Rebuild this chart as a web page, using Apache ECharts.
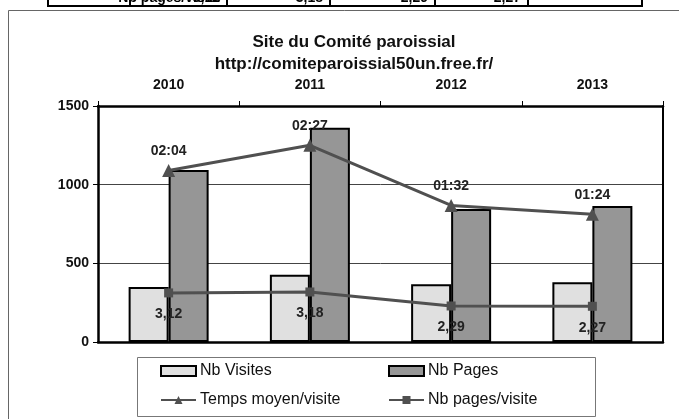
<!DOCTYPE html>
<html>
<head>
<meta charset="utf-8">
<script src="https://cdn.jsdelivr.net/npm/echarts@6/dist/echarts.min.js"></script>
<style>
  html, body { margin: 0; padding: 0; background: #fff; }
  #chart { width: 679px; height: 419px; }
</style>
</head>
<body>
<div id="chart"></div>
<script>
// données
var years = ["2010", "2011", "2012", "2013"];
var nbVisites = [350, 428, 367, 380];
var nbPages = [1093, 1362, 845, 865];
var tempsMoyen = [124, 147, 92, 84]; // secondes : 02:04, 02:27, 01:32, 01:24
var pagesParVisite = [3.12, 3.18, 2.29, 2.27];
var tableRow = ["3,12", "3,18", "2,29", "2,27"];

var font = "'Liberation Sans', Arial, sans-serif";
var lineColor = "#505050";

function mmss(s) {
	var m = Math.floor(s / 60), r = s % 60;
	return (m < 10 ? "0" : "") + m + ":" + (r < 10 ? "0" : "") + r;
}

var chart = echarts.init(document.getElementById("chart"));

// bout de tableau coupé en haut de l'image
var tableCols = [48, 130, 227, 330, 435, 528, 642];
var tableGraphics = [];
tableGraphics.push({
	type: "text", x: 221, y: 5,
	style: { text: "Nb pages/visite", font: "bold 14px " + font, fill: "#000", textAlign: "right", textVerticalAlign: "bottom" }
});
tableRow.forEach(function(t, i) {
	tableGraphics.push({
		type: "text", x: tableCols[i + 2] - 7, y: 5,
		style: { text: t, font: "bold 14px " + font, fill: "#000", textAlign: "right", textVerticalAlign: "bottom" }
	});
});
tableCols.forEach(function(x) {
	tableGraphics.push({
		type: "line", shape: { x1: x, y1: -2, x2: x, y2: 6 },
		style: { stroke: "#000", lineWidth: 2 }
	});
});
tableGraphics.push({
	type: "line", shape: { x1: 47, y1: 6, x2: 643, y2: 6 },
	style: { stroke: "#000", lineWidth: 2 }
});

var option = {
	backgroundColor: "#fff",
	animation: false,
	textStyle: { fontFamily: font },
	title: [
		{
			text: "Site du Comité paroissial",
			left: 349, top: 29, textAlign: "center",
			textStyle: { fontSize: 17, fontWeight: "bold", color: "#111", fontFamily: font }
		},
		{
			text: "http://comiteparoissial50un.free.fr/",
			left: 349, top: 51, textAlign: "center",
			textStyle: { fontSize: 17, fontWeight: "bold", color: "#111", fontFamily: font }
		}
	],
	graphic: [
		{
			type: "rect", shape: { x: 8.5, y: 10.5, width: 700, height: 450 },
			style: { fill: "none", stroke: "#666", lineWidth: 1 }
		},
		{
			type: "rect", shape: { x: 137.5, y: 357.5, width: 458, height: 59 },
			style: { fill: "#fff", stroke: "#777", lineWidth: 1 }
		}
	].concat(tableGraphics),
	legend: [
		{ data: [{ name: "Nb Visites", icon: "rect" }], left: 160, top: 363 },
		{ data: [{ name: "Nb Pages", icon: "rect" }], left: 388, top: 363 },
		{ data: ["Temps moyen/visite"], left: 160, top: 392 },
		{ data: ["Nb pages/visite"], left: 388, top: 392 }
	].map(function(l) {
		l.padding = 0;
		l.itemWidth = 35;
		l.itemHeight = 10;
		l.selectedMode = false;
		l.textStyle = { fontSize: 16, color: "#111", fontFamily: font, padding: [0, 0, 0, -1] };
		return l;
	}),
	grid: { left: 98, right: 16, top: 106, bottom: 77 },
	xAxis: [
		{
			type: "category",
			data: years,
			position: "top",
			axisLine: { onZero: false, lineStyle: { color: "#000", width: 2.5 } },
			axisTick: { show: true, length: 5, lineStyle: { color: "#000", width: 1 } },
			axisLabel: { fontSize: 14, fontWeight: "bold", color: "#111", margin: 14 }
		},
		{
			type: "category",
			data: years,
			position: "bottom",
			axisLine: { onZero: false, lineStyle: { color: "#000", width: 2.5 } },
			axisTick: { show: false },
			axisLabel: { show: false }
		}
	],
	yAxis: [
		{
			type: "value",
			min: 0, max: 1500, interval: 500,
			axisLine: { show: true, onZero: false, lineStyle: { color: "#000", width: 2.5 } },
			axisTick: { show: true, length: 5, lineStyle: { color: "#000", width: 1 } },
			axisLabel: { fontSize: 14, fontWeight: "bold", color: "#111", margin: 9, formatter: function(v) { return String(v); } },
			splitLine: { lineStyle: { color: "#444", width: 1 } }
		},
		{
			type: "value",
			min: -33, max: 183,
			position: "right",
			axisLine: { show: true, onZero: false, lineStyle: { color: "#000", width: 2 } },
			axisTick: { show: false },
			axisLabel: { show: false },
			splitLine: { show: false }
		},
		{
			type: "value",
			min: 0, max: 15,
			position: "right",
			axisLine: { show: false },
			axisTick: { show: false },
			axisLabel: { show: false },
			splitLine: { show: false }
		}
	],
	series: [
		{
			name: "Nb Visites",
			type: "bar",
			data: nbVisites,
			barWidth: 40,
			barGap: "0%",
			itemStyle: { color: "#e0e0e0", borderColor: "#000", borderWidth: 2 }
		},
		{
			name: "Nb Pages",
			type: "bar",
			data: nbPages,
			barWidth: 40,
			itemStyle: { color: "#969696", borderColor: "#000", borderWidth: 2 }
		},
		{
			name: "Temps moyen/visite",
			type: "line",
			yAxisIndex: 1,
			data: tempsMoyen,
			symbol: "triangle",
			symbolSize: 13,
			lineStyle: { color: lineColor, width: 3 },
			itemStyle: { color: lineColor },
			label: {
				show: true, position: "top", distance: 6,
				fontSize: 14, fontWeight: "bold", color: "#222",
				formatter: function(p) { return mmss(p.value); }
			}
		},
		{
			name: "Nb pages/visite",
			type: "line",
			yAxisIndex: 2,
			data: pagesParVisite,
			symbol: "rect",
			symbolSize: 9,
			lineStyle: { color: lineColor, width: 3 },
			itemStyle: { color: lineColor },
			label: {
				show: true, position: "bottom", distance: 10,
				fontSize: 14, fontWeight: "bold", color: "#222",
				formatter: function(p) { return String(p.value.toFixed(2)).replace(".", ","); }
			}
		}
	]
};

chart.setOption(option);
</script>
</body>
</html>
